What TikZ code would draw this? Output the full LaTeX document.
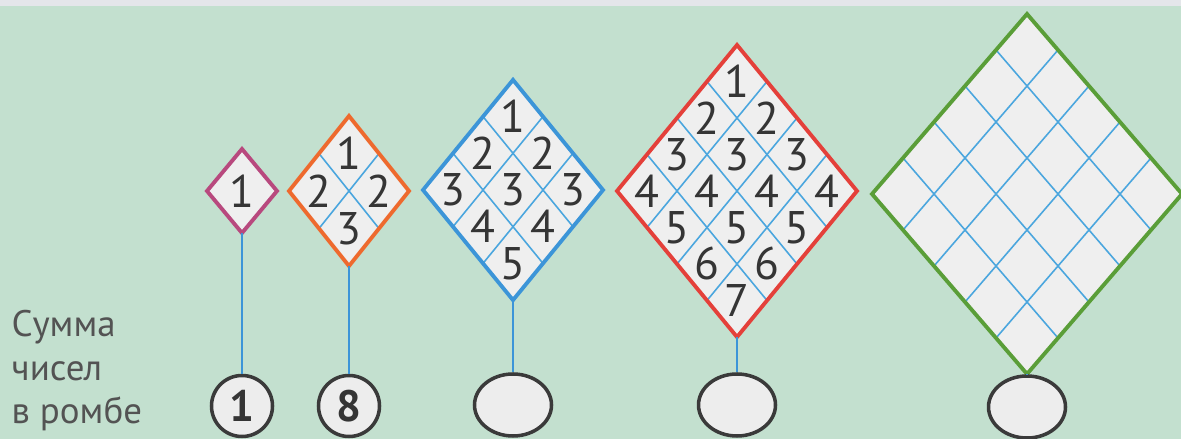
\documentclass[tikz,border=0pt]{standalone}
\usepackage{fontspec}
\setmainfont{PT Sans}
\usetikzlibrary{shapes.geometric}

\definecolor{bggreen}{HTML}{C3E0CF}
\definecolor{topgray}{HTML}{E4E6EA}
\definecolor{cellfill}{HTML}{EFEFEF}
\definecolor{gridblue}{HTML}{4AA6DE}
\definecolor{stemblue}{HTML}{3C95D8}
\definecolor{rimpink}{HTML}{B8497E}
\definecolor{rimorange}{HTML}{EE6A2E}
\definecolor{rimblue}{HTML}{3C95D8}
\definecolor{rimred}{HTML}{E4403A}
\definecolor{rimgreen}{HTML}{5A9E38}
\definecolor{numgray}{HTML}{353535}
\definecolor{ovalgray}{HTML}{3A3A3A}
\definecolor{ovalfill}{HTML}{EDEDED}

\tikzset{
  rhomb/.style={line width=1.1pt, line join=miter},
  gridline/.style={draw=gridblue, line width=0.45pt},
  cellnum/.style={text=numgray, inner sep=0pt, font=\fontsize{13}{13}\selectfont},
  stem/.style={draw=stemblue, line width=0.7pt},
  sumcirc/.style={circle, draw=ovalgray, line width=1pt, fill=ovalfill,
    minimum size=0.61cm, inner sep=0pt, text=numgray,
    font=\bfseries\fontsize{12.5}{12.5}\selectfont},
  sumoval/.style={ellipse, draw=ovalgray, line width=1pt, fill=ovalfill,
    minimum width=0.77cm, minimum height=0.62cm, inner sep=0pt},
  sumtext/.style={align=left, inner sep=0pt, text=numgray!85,
    font=\fontsize{10.5}{12.3}\selectfont}
}

\begin{document}
\begin{tikzpicture}
    % Background and the grey strip on top
    \fill[bggreen] (0,0) rectangle (11.81,4.39);
    \fill[topgray] (0,4.33) rectangle (11.81,4.39);
    \useasboundingbox (0,0) rectangle (11.81,4.39);

    % Draw the rhombi, their grids and numbers
    \foreach \n/\cx/\cy/\dx/\dy/\col [count=\d] in
        {1/2.42/2.48/0.35/0.42/rimpink, 2/3.49/2.48/0.30/0.375/rimorange,
         3/5.13/2.49/0.30/0.367/rimblue, 4/7.37/2.48/0.30/0.365/rimred,
         5/10.27/2.45/0.31/0.36/rimgreen} {
      \begin{scope}[shift={(\cx,\cy)}]
        \coordinate (t\d) at (0,{\n*\dy});
        \coordinate (l\d) at ({-\n*\dx},0);
        \coordinate (b\d) at (0,{-\n*\dy});
        \coordinate (r\d) at ({\n*\dx},0);
        \fill[cellfill] (t\d) -- (l\d) -- (b\d) -- (r\d) -- cycle;
        \ifnum\n>1
          \pgfmathtruncatemacro\m{\n-1}
          \foreach \k in {1,...,\m} {
            \draw[gridline] ({\k*\dx},{(\n-\k)*\dy}) -- ({(\k-\n)*\dx},{-\k*\dy});
            \draw[gridline] ({-\k*\dx},{(\n-\k)*\dy}) -- ({(\n-\k)*\dx},{-\k*\dy});
          }
        \fi
        \draw[rhomb, draw=\col] (t\d) -- (l\d) -- (b\d) -- (r\d) -- cycle;
        % numbers only in the first four rhombi
        \ifnum\n<5
          \foreach \i in {1,...,\n} {
            \foreach \j in {1,...,\n} {
              \pgfmathtruncatemacro\v{\i+\j-1}
              \node[cellnum] (c\d-\i-\j) at ({(\j-\i)*\dx},{(\n-\i-\j+1)*\dy}) {\v};
            }
          }
        \fi
      \end{scope}
    }

    % Place the sums under the rhombi
    \node[sumcirc] (s1) at (2.42,0.33) {1};
    \node[sumcirc] (s2) at (3.49,0.33) {8};
    \node[sumoval] (s3) at (5.13,0.34) {};
    \node[sumoval] (s4) at (7.37,0.34) {};
    \node[sumoval] (s5) at (10.27,0.32) {};

    % Stems from rhombus to sum
    \foreach \i in {1,...,5}
      \draw[stem] (b\i) -- (s\i);

    % Label on the left
    \node[sumtext, anchor=north west] (lbl) at (0.11,1.29) {Сумма\\чисел\\в ромбе};
\end{tikzpicture}
\end{document}
